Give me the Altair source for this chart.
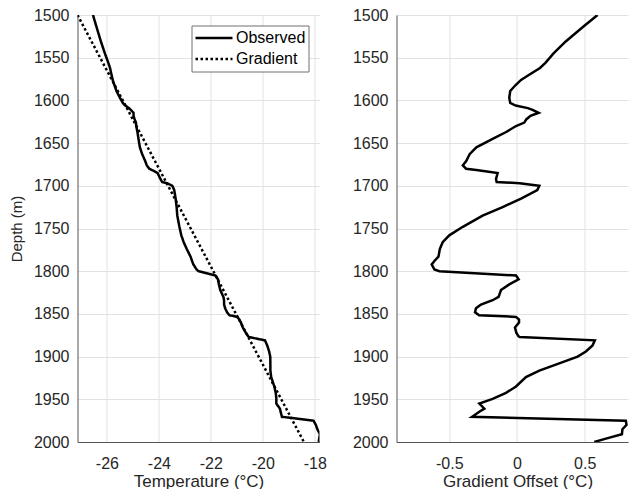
import altair as alt
import numpy as np
import pandas as pd

# Depth (m) of the gradient-offset profile
depth = [1500, 1515, 1531, 1545, 1556, 1562, 1570, 1576, 1582, 1589, 1597, 1603,
         1606, 1609, 1611, 1614.5, 1618, 1622, 1626, 1630, 1637, 1645, 1655, 1663,
         1671, 1676, 1680, 1681.5, 1685, 1692, 1695.5, 1697, 1700, 1705, 1715, 1725,
         1735, 1748, 1758, 1766, 1774, 1783, 1788, 1792, 1798, 1800, 1805, 1809.5,
         1815.5, 1822, 1830, 1834, 1839, 1843.5, 1848, 1851.5, 1853.5, 1856.5, 1860,
         1866, 1872, 1876, 1877, 1881, 1887, 1894, 1900, 1908, 1916.5, 1924, 1935,
         1942.5, 1949.5, 1955, 1961, 1964.5, 1970.5, 1975, 1980, 1985, 1991, 1996, 2000]
# Gradient offset (°C)
offset = [0.595, 0.48, 0.36, 0.27, 0.21, 0.17, 0.09, 0.03, -0.01, -0.05, -0.057, -0.05,
          -0.01, 0.08, 0.115, 0.16, 0.10, 0.07, 0.054, -0.007, -0.08, -0.18, -0.30, -0.35,
          -0.375, -0.40, -0.376, -0.30, -0.143, -0.155, -0.15, 0.02, 0.165, 0.15, 0.03, -0.106,
          -0.254, -0.40, -0.50, -0.549, -0.57, -0.58, -0.61, -0.63, -0.61, -0.573, -0.007, 0.012,
          -0.057, -0.118, -0.136, -0.18, -0.266, -0.303, -0.31, -0.28, -0.007, 0.015, 0.015,
          -0.015, -0.005, 0.01, 0.02, 0.575, 0.558, 0.509, 0.448, 0.312, 0.165, 0.066, -0.007,
          -0.081, -0.18, -0.278, -0.241, -0.278, -0.332, 0.804, 0.809, 0.779, 0.775, 0.657, 0.571]

# Straight-line temperature gradient (end points)
grad_depth = [1500, 2000]
grad_temp = [-27.13, -18.42]

temp_ticks = [-26, -24, -22, -20, -18]
offset_ticks = [-0.5, 0, 0.5]
depth_ticks = list(range(1500, 2001, 50))

# Observed temperature = gradient line + offset
observed = np.interp(depth, grad_depth, grad_temp) + np.array(offset)

left_df = pd.concat([
    pd.DataFrame({"depth": depth, "temp": observed, "series": "Observed"}),
    pd.DataFrame({"depth": grad_depth, "temp": grad_temp, "series": "Gradient"}),
], ignore_index=True)
right_df = pd.DataFrame({"depth": depth, "offset": offset})

minus_expr = "datum.value < 0 ? '-' + format(-datum.value, '') : format(datum.value, '')"

y_scale = alt.Scale(domain=[1500, 2000], reverse=True, nice=False, zero=False)

left = alt.Chart(left_df).mark_line(color="black", strokeWidth=2.5, clip=True,
                                    strokeCap="butt").encode(
    x=alt.X("temp:Q",
            scale=alt.Scale(domain=[-27.13, -17.82], nice=False, zero=False),
            axis=alt.Axis(values=temp_ticks, title="Temperature (°C)",
                          labelExpr=minus_expr)),
    y=alt.Y("depth:Q", scale=y_scale,
            axis=alt.Axis(values=depth_ticks, title="Depth (m)", format="d",
                          titleFontSize=15, titlePadding=9)),
    strokeDash=alt.StrokeDash(
        "series:N",
        scale=alt.Scale(domain=["Observed", "Gradient"], range=[[1, 0], [2.5, 2.5]]),
        legend=alt.Legend(title=None, orient="none", legendX=114, legendY=10.5,
                          symbolType="stroke", symbolSize=1369, symbolStrokeWidth=2.5,
                          symbolStrokeColor="black", clipHeight=20, rowPadding=1,
                          padding=2.5, labelOffset=2, labelFontSize=16,
                          labelColor="black", fillColor="white",
                          strokeColor="#707070")),
    order=alt.Order("depth:Q"),
).properties(width=242, height=427)

right = alt.Chart(right_df).mark_line(color="black", strokeWidth=2.5, clip=True).encode(
    x=alt.X("offset:Q",
            scale=alt.Scale(domain=[-0.89, 0.82], nice=False, zero=False),
            axis=alt.Axis(values=offset_ticks, title="Gradient Offset (°C)",
                          labelExpr=minus_expr, titleX=121)),
    y=alt.Y("depth:Q", scale=y_scale,
            axis=alt.Axis(values=depth_ticks, title=None, format="d")),
    order=alt.Order("depth:Q"),
).properties(width=231.5, height=427)

chart = alt.hconcat(left, right, spacing=77, bounds="flush").properties(
    padding={"left": 0.5, "top": -1, "right": 0, "bottom": 0}
).configure(
    font="Liberation Sans, Arial, sans-serif",
).configure_view(
    strokeWidth=0,
).configure_axis(
    grid=True,
    gridColor="#e2e2e2",
    gridWidth=1,
    domainColor="#555555",
    domainWidth=1,
    ticks=False,
    tickSize=0,
    labelFontSize=16,
    labelColor="#262626",
    labelPadding=8.5,
    titleFontSize=17,
    titleFontWeight="normal",
    titleColor="#262626",
).configure_axisX(
    labelPadding=13,
    titlePadding=2,
).configure_legend(
    cornerRadius=0,
)

chart.save("out.html", embed_options={"renderer": "svg", "actions": False})
